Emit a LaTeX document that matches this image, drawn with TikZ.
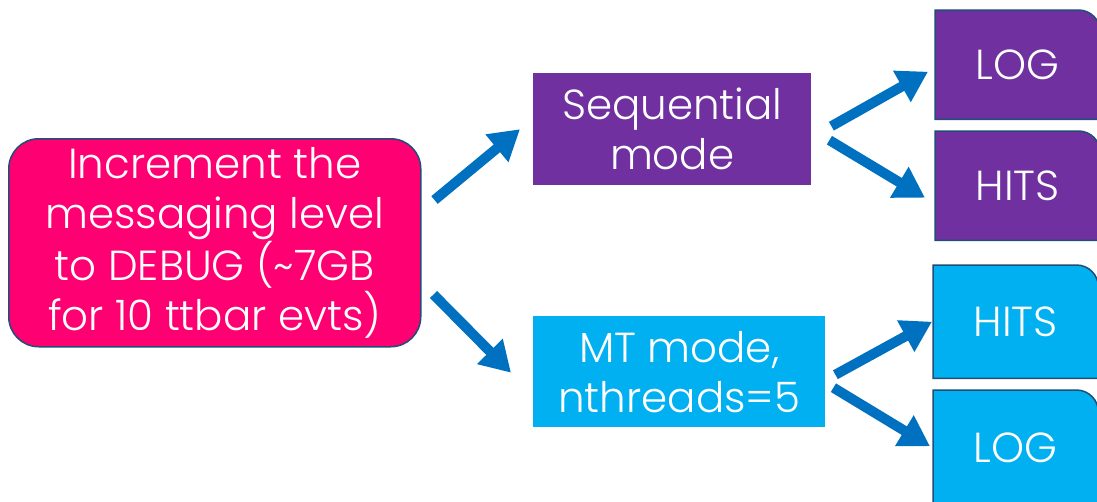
\documentclass[tikz,border=0pt]{standalone}
\usepackage{fontspec}
\setmainfont{Poppins}[UprightFont=* Light]
\usetikzlibrary{calc,arrows.meta}
\definecolor{hotpink}{HTML}{FF0073}
\definecolor{seqpurple}{HTML}{7030A0}
\definecolor{mtcyan}{HTML}{00B0F0}
\definecolor{edgeblue}{HTML}{1F4E79}
\definecolor{arrowblue}{HTML}{0070C0}
\tikzset{
  boxtext/.style={text=white, align=center, inner sep=0pt,
    font=\fontsize{42}{50}\selectfont},
  startbox/.style={boxtext, draw=edgeblue, line width=1.5pt, fill=hotpink,
    rounded corners=30pt, minimum width=412pt, minimum height=208pt},
  modebox/.style={boxtext, minimum height=112pt},
  outbox/.style={boxtext, minimum width=165pt},
  tabfill/.style={line width=1.5pt, draw=edgeblue},
  flow/.style={arrowblue, line width=10pt,
    -{Triangle[length=30pt,width=34pt]}, shorten >=0pt},
}
\newcommand\tabbox[2]{%
  \filldraw[tabfill, fill=#2] (#1.south west) -- (#1.north west)
    [rounded corners=22pt] -- (#1.north east) [sharp corners] -- (#1.south east) -- cycle;}
\begin{document}
\begin{tikzpicture}[x=1pt,y=-1pt]
  \useasboundingbox (0,0) rectangle (1097,501);
  \clip (0,0) rectangle (1097,501);
  \fill[white] (0,0) rectangle (1097,501);

  % source box
  \node[startbox, anchor=north west] (src) at (8,138)
    {Increment the\\messaging level\\to DEBUG (\textasciitilde 7GB\\for 10 ttbar evts)};

  % run modes
  \node[modebox, fill=seqpurple, minimum width=278pt, anchor=north west] (seq) at (533,73)
    {Sequential\\mode};
  \node[modebox, fill=mtcyan, minimum width=292pt, anchor=north west, minimum height=111pt] (mt) at (533,316)
    {MT mode,\\nthreads=5};

  % outputs, the right side runs past the frame
  \node[outbox, minimum height=109pt, anchor=north west] (slog) at (935,10) {};
  \node[outbox, minimum height=109pt, anchor=north west] (shits) at (935,131) {};
  \node[outbox, minimum height=113pt, anchor=north west] (mhits) at (933,265) {};
  \node[outbox, minimum height=114pt, anchor=north west] (mlog) at (933,390) {};
  \tabbox{slog}{seqpurple}
  \tabbox{shits}{seqpurple}
  \tabbox{mhits}{mtcyan}
  \tabbox{mlog}{mtcyan}
  \node[boxtext] (slogt) at (slog.center) {LOG};
  \node[boxtext] (shitst) at (shits.center) {HITS};
  \node[boxtext] (mhitst) at (mhits) {HITS};
  \node[boxtext] (mlogt) at ([yshift=-1pt]mlog.center) {LOG};

  % connectors
  \draw[flow] ($(src.north east)+(13,62)$) -- ($(seq.west)+(-13,0)$);
  \draw[flow] ($(src.south east)+(12,-53)$) -- ($(mt.west)+(-22,1)$);
  \draw[flow] ($(seq.east)+(20,-3)$) -- ($(slog.west)+(-7,7)$);
  \draw[flow] ($(seq.east)+(18,11)$) -- ($(shits.west)+(-10,12)$);
  \draw[flow] ($(mt.east)+(10,3)$) -- ($(mhits.west)+(-1,0)$);
  \draw[flow] ($(mt.east)+(8,16)$) -- ($(mlog.west)+(-3,-1)$);
\end{tikzpicture}
\end{document}
